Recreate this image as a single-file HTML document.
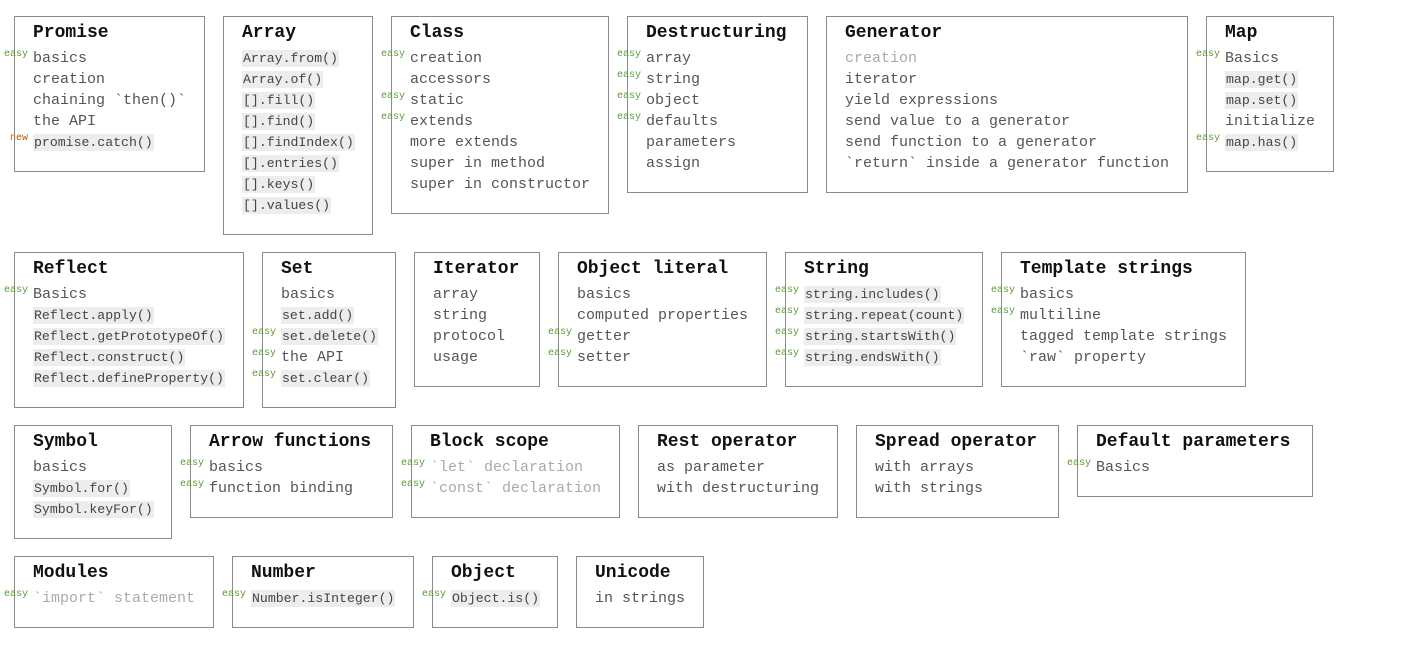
<!DOCTYPE html>
<html><head><meta charset="utf-8">
<style>
body{margin:0;width:1414px;height:652px;background:#fff;position:relative;overflow:hidden;font-family:"Liberation Mono","Noto Sans CJK SC",monospace;}
.b{position:absolute;border:1px solid #8a8a8a;box-sizing:border-box;padding:3px 0 0 18px;}
.b h{display:block;font-family:"Liberation Mono",monospace;font-weight:bold;font-size:18px;line-height:26px;color:#111;margin-bottom:2px;white-space:nowrap;}
.i{position:relative;font-size:15px;line-height:21px;color:#555;white-space:nowrap;}
.i.d{color:#aaa;}
.i c{font-size:13.2px;background:#ededed;color:#444;padding:1px 1px;}
.i t{position:absolute;right:100%;margin-right:5px;top:0;font-size:10px;line-height:14px;color:#5a9a3a;}
.i t.n{color:#b06010;}
</style></head><body>

<div class="b" style="left:14px;top:16px;width:191px;height:156px"><h>Promise</h>
<div class="i"><t>easy</t>basics</div><div class="i">creation</div><div class="i">chaining `then()`</div><div class="i">the API</div><div class="i"><t class="n">new</t><c>promise.catch()</c></div></div>

<div class="b" style="left:223px;top:16px;width:150px;height:219px"><h>Array</h>
<div class="i"><c>Array.from()</c></div><div class="i"><c>Array.of()</c></div><div class="i"><c>[].fill()</c></div><div class="i"><c>[].find()</c></div><div class="i"><c>[].findIndex()</c></div><div class="i"><c>[].entries()</c></div><div class="i"><c>[].keys()</c></div><div class="i"><c>[].values()</c></div></div>

<div class="b" style="left:391px;top:16px;width:218px;height:198px"><h>Class</h>
<div class="i"><t>easy</t>creation</div><div class="i">accessors</div><div class="i"><t>easy</t>static</div><div class="i"><t>easy</t>extends</div><div class="i">more extends</div><div class="i">super in method</div><div class="i">super in constructor</div></div>

<div class="b" style="left:627px;top:16px;width:181px;height:177px"><h>Destructuring</h>
<div class="i"><t>easy</t>array</div><div class="i"><t>easy</t>string</div><div class="i"><t>easy</t>object</div><div class="i"><t>easy</t>defaults</div><div class="i">parameters</div><div class="i">assign</div></div>

<div class="b" style="left:826px;top:16px;width:362px;height:177px"><h>Generator</h>
<div class="i d">creation</div><div class="i">iterator</div><div class="i">yield expressions</div><div class="i">send value to a generator</div><div class="i">send function to a generator</div><div class="i">`return` inside a generator function</div></div>

<div class="b" style="left:1206px;top:16px;width:128px;height:156px"><h>Map</h>
<div class="i"><t>easy</t>Basics</div><div class="i"><c>map.get()</c></div><div class="i"><c>map.set()</c></div><div class="i">initialize</div><div class="i"><t>easy</t><c>map.has()</c></div></div>

<div class="b" style="left:14px;top:252px;width:230px;height:156px"><h>Reflect</h>
<div class="i"><t>easy</t>Basics</div><div class="i"><c>Reflect.apply()</c></div><div class="i"><c>Reflect.getPrototypeOf()</c></div><div class="i"><c>Reflect.construct()</c></div><div class="i"><c>Reflect.defineProperty()</c></div></div>

<div class="b" style="left:262px;top:252px;width:134px;height:156px"><h>Set</h>
<div class="i">basics</div><div class="i"><c>set.add()</c></div><div class="i"><t>easy</t><c>set.delete()</c></div><div class="i"><t>easy</t>the API</div><div class="i"><t>easy</t><c>set.clear()</c></div></div>

<div class="b" style="left:414px;top:252px;width:126px;height:135px"><h>Iterator</h>
<div class="i">array</div><div class="i">string</div><div class="i">protocol</div><div class="i">usage</div></div>

<div class="b" style="left:558px;top:252px;width:209px;height:135px"><h>Object literal</h>
<div class="i">basics</div><div class="i">computed properties</div><div class="i"><t>easy</t>getter</div><div class="i"><t>easy</t>setter</div></div>

<div class="b" style="left:785px;top:252px;width:198px;height:135px"><h>String</h>
<div class="i"><t>easy</t><c>string.includes()</c></div><div class="i"><t>easy</t><c>string.repeat(count)</c></div><div class="i"><t>easy</t><c>string.startsWith()</c></div><div class="i"><t>easy</t><c>string.endsWith()</c></div></div>

<div class="b" style="left:1001px;top:252px;width:245px;height:135px"><h>Template strings</h>
<div class="i"><t>easy</t>basics</div><div class="i"><t>easy</t>multiline</div><div class="i">tagged template strings</div><div class="i">`raw` property</div></div>

<div class="b" style="left:14px;top:425px;width:158px;height:114px"><h>Symbol</h>
<div class="i">basics</div><div class="i"><c>Symbol.for()</c></div><div class="i"><c>Symbol.keyFor()</c></div></div>

<div class="b" style="left:190px;top:425px;width:203px;height:93px"><h>Arrow functions</h>
<div class="i"><t>easy</t>basics</div><div class="i"><t>easy</t>function binding</div></div>

<div class="b" style="left:411px;top:425px;width:209px;height:93px"><h>Block scope</h>
<div class="i d"><t>easy</t>`let` declaration</div><div class="i d"><t>easy</t>`const` declaration</div></div>

<div class="b" style="left:638px;top:425px;width:200px;height:93px"><h>Rest operator</h>
<div class="i">as parameter</div><div class="i">with destructuring</div></div>

<div class="b" style="left:856px;top:425px;width:203px;height:93px"><h>Spread operator</h>
<div class="i">with arrays</div><div class="i">with strings</div></div>

<div class="b" style="left:1077px;top:425px;width:236px;height:72px"><h>Default parameters</h>
<div class="i"><t>easy</t>Basics</div></div>

<div class="b" style="left:14px;top:556px;width:200px;height:72px"><h>Modules</h>
<div class="i d"><t>easy</t>`import` statement</div></div>

<div class="b" style="left:232px;top:556px;width:182px;height:72px"><h>Number</h>
<div class="i"><t>easy</t><c>Number.isInteger()</c></div></div>

<div class="b" style="left:432px;top:556px;width:126px;height:72px"><h>Object</h>
<div class="i"><t>easy</t><c>Object.is()</c></div></div>

<div class="b" style="left:576px;top:556px;width:128px;height:72px"><h>Unicode</h>
<div class="i">in strings</div></div>

</body></html>
